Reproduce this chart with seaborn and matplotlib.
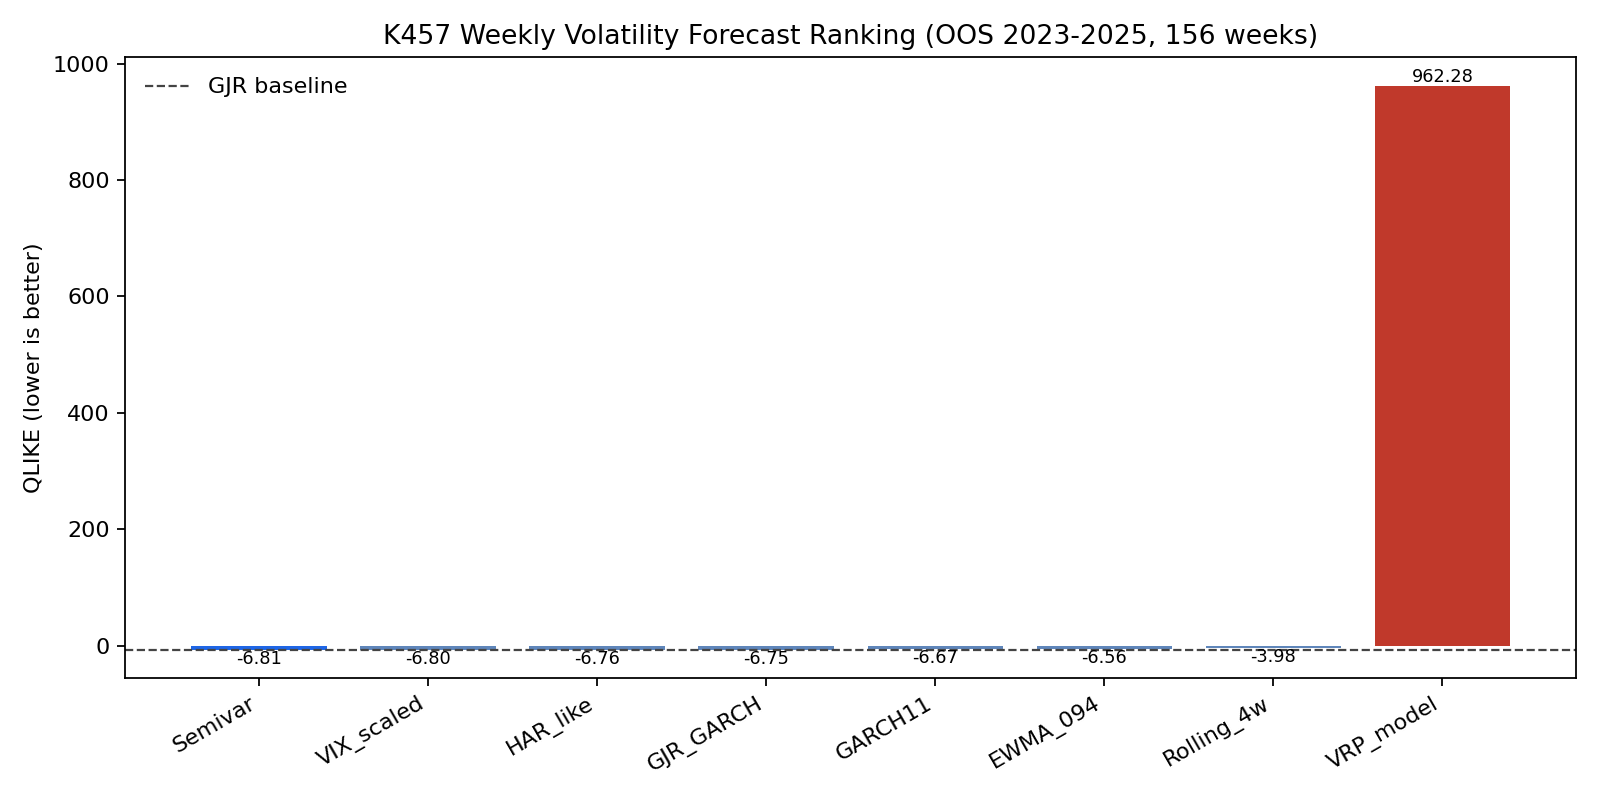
import matplotlib
matplotlib.use("Agg")
import matplotlib.pyplot as plt
import seaborn as sns
import pandas as pd

models = ["Semivar", "VIX_scaled", "HAR_like", "GJR_GARCH", "GARCH11",
          "EWMA_094", "Rolling_4w", "VRP_model"]
qlike = [-6.81, -6.80, -6.76, -6.75, -6.67, -6.56, -3.98, 962.28]
bar_colors = ["#1f66e5", "#5f86ba", "#5f86ba", "#5f86ba", "#5f86ba",
              "#5f86ba", "#5f86ba", "#c0392b"]
baseline_model = "GJR_GARCH"

df = pd.DataFrame({"model": models, "qlike": qlike})

fig, ax = plt.subplots(figsize=(10, 5), dpi=160)
sns.barplot(data=df, x="model", y="qlike", hue="model", palette=bar_colors,
            legend=False, ax=ax, width=0.8, saturation=1)

base = df.loc[df.model == baseline_model, "qlike"].iloc[0]
ax.axhline(base, color="#444444", linestyle="--", linewidth=1, label="GJR baseline")

for i, v in enumerate(qlike):
    if v < 0:
        ax.text(i, v, f"{v:.2f}", ha="center", va="top", fontsize=8)
    else:
        ax.text(i, v, f"{v:.2f}", ha="center", va="bottom", fontsize=8)

ax.set_xlim(-0.79, len(models) - 0.21)
ax.set_title("K457 Weekly Volatility Forecast Ranking (OOS 2023-2025, 156 weeks)", fontsize=12)
ax.set_ylabel("QLIKE (lower is better)")
ax.set_xlabel("")
plt.setp(ax.get_xticklabels(), rotation=30, ha="right")
ax.legend(loc="upper left", frameon=False)

plt.tight_layout()
plt.savefig("out.png", dpi=160)
